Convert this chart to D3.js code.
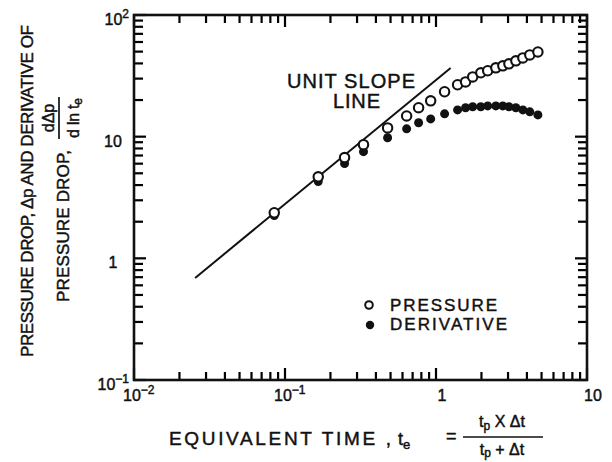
<!DOCTYPE html>
<html>
<head>
<meta charset="utf-8">
<script src="https://cdn.jsdelivr.net/npm/d3@7/dist/d3.min.js"></script>
<style>
  body { margin: 0; background: #fff; }
  svg { display: block; }
  text { font-family: "Liberation Sans", Arial, sans-serif; fill: #111; stroke: #111; stroke-width: 0.45px; }
</style>
</head>
<body>
<div id="chart"></div>
<script>
// equivalent time t_e for every measured point
const equivalentTime = [0.0849, 0.166, 0.248, 0.331, 0.478, 0.639, 0.767, 0.922, 1.14, 1.39,
  1.57, 1.75, 1.98, 2.20, 2.49, 2.77, 3.04, 3.38, 3.76, 4.18, 4.73];
// pressure drop (open circles)
const pressureDrop = [2.37, 4.68, 6.73, 8.60, 11.8, 14.8, 17.3, 19.7, 23.4, 26.7,
  28.2, 31.0, 33.5, 34.8, 36.8, 38.2, 39.7, 42.0, 44.4, 47.0, 49.7];
// derivative d(dp)/d ln t_e (filled dots)
const pressureDerivative = [2.25, 4.28, 6.01, 7.53, 9.8, 11.6, 13.0, 14.0, 15.4, 16.6,
  17.3, 17.6, 17.6, 17.9, 17.9, 17.9, 17.6, 17.3, 16.6, 16.0, 15.1];

// unit slope reference line, end points
const unitSlopeTime = [0.0254, 1.25];
const unitSlopeValue = [0.69, 36.7];

// tick labels: [base, exponent]
const xTickValues = [0.01, 0.1, 1, 10];
const xTickLabels = [["10", "\u22122"], ["10", "\u22121"], ["1", ""], ["10", ""]];
const yTickValues = [0.1, 1, 10, 100];
const yTickLabels = [["10", "\u22121"], ["1", ""], ["10", ""], ["10", "2"]];

const legendLabels = ["PRESSURE", "DERIVATIVE"];

const WIDTH = 612, HEIGHT = 462;
const PLOT = { left: 134, right: 587, top: 15, bottom: 380 };

const svg = d3.select("#chart").append("svg")
  .attr("width", WIDTH)
  .attr("height", HEIGHT);

const g = svg.append("g");

const xScale = d3.scaleLog().domain([0.01, 10]).range([PLOT.left, PLOT.right]);
const yScale = d3.scaleLog().domain([0.1, 100]).range([PLOT.bottom, PLOT.top]);

const isMajor = v => Math.abs(Math.log10(v) - Math.round(Math.log10(v))) < 1e-6;
const xMinor = xScale.ticks().filter(v => !isMajor(v));
const yMinor = yScale.ticks().filter(v => !isMajor(v));

// inward ticks as small filled bars: [value, length]
const xTickMarks = xMinor.map(v => [v, 8]).concat(xTickValues.map(v => [v, 12]));
const yTickMarks = yMinor.map(v => [v, 9]).concat(yTickValues.map(v => [v, 12]));
const TW = 2.2;

g.append("g").selectAll("rect")
  .data(xTickMarks)
  .join("rect")
  .attr("x", d => xScale(d[0]) - TW / 2)
  .attr("y", d => PLOT.bottom - d[1])
  .attr("width", TW)
  .attr("height", d => d[1])
  .attr("fill", "#000");
g.append("g").selectAll("rect")
  .data(xTickMarks)
  .join("rect")
  .attr("x", d => xScale(d[0]) - TW / 2)
  .attr("y", PLOT.top)
  .attr("width", TW)
  .attr("height", d => d[1])
  .attr("fill", "#000");
g.append("g").selectAll("rect")
  .data(yTickMarks)
  .join("rect")
  .attr("x", PLOT.left)
  .attr("y", d => yScale(d[0]) - TW / 2)
  .attr("width", d => d[1])
  .attr("height", TW)
  .attr("fill", "#000");
g.append("g").selectAll("rect")
  .data(yTickMarks)
  .join("rect")
  .attr("x", d => PLOT.right - d[1])
  .attr("y", d => yScale(d[0]) - TW / 2)
  .attr("width", d => d[1])
  .attr("height", TW)
  .attr("fill", "#000");

g.append("rect")
  .attr("x", PLOT.left).attr("y", PLOT.top)
  .attr("width", PLOT.right - PLOT.left).attr("height", PLOT.bottom - PLOT.top)
  .attr("fill", "none")
  .attr("stroke", "#111")
  .attr("stroke-width", 2.6);

// tick labels
function tickLabel(sel, label) {
  sel.append("tspan").text(label[0]);
  if (label[1]) {
    sel.append("tspan").attr("dy", -7).attr("font-size", 12).text(label[1]);
  }
}
xTickValues.forEach((v, i) => {
  const lab = xTickLabels[i];
  const t = g.append("text")
    .attr("y", PLOT.bottom + 21)
    .attr("font-size", 16);
  if (lab[1]) t.attr("x", xScale(v) - 11).attr("text-anchor", "start");
  else t.attr("x", xScale(v) + 6).attr("text-anchor", "middle");
  tickLabel(t, lab);
});
yTickValues.forEach((v, i) => {
  const lab = yTickLabels[i];
  const t = g.append("text")
    .attr("y", yScale(v) + 10)
    .attr("font-size", 16);
  if (lab[1]) t.attr("x", PLOT.left - 5).attr("text-anchor", "end");
  else t.attr("x", PLOT.left - 21).attr("text-anchor", "middle");
  tickLabel(t, lab);
});

// unit slope line
const slopeLine = d3.line().x(d => xScale(d[0])).y(d => yScale(d[1]));
g.append("path")
  .attr("d", slopeLine(d3.zip(unitSlopeTime, unitSlopeValue)))
  .attr("fill", "none")
  .attr("stroke", "#111")
  .attr("stroke-width", 2);

g.append("text").attr("x", 287).attr("y", 88).attr("font-size", 20)
  .attr("textLength", 128).attr("lengthAdjust", "spacing").text("UNIT SLOPE");
g.append("text").attr("x", 333).attr("y", 108).attr("font-size", 20)
  .attr("textLength", 47).attr("lengthAdjust", "spacing").text("LINE");

// derivative first, pressure circles drawn over it
g.append("g").selectAll("circle")
  .data(d3.zip(equivalentTime, pressureDerivative))
  .join("circle")
  .attr("cx", d => xScale(d[0]))
  .attr("cy", d => yScale(d[1]))
  .attr("r", 4.5)
  .attr("fill", "#111");

g.append("g").selectAll("circle")
  .data(d3.zip(equivalentTime, pressureDrop))
  .join("circle")
  .attr("cx", d => xScale(d[0]))
  .attr("cy", d => yScale(d[1]))
  .attr("r", 4.7)
  .attr("fill", "#fff")
  .attr("stroke", "#111")
  .attr("stroke-width", 2.1);

// legend
g.append("circle").attr("cx", 369).attr("cy", 305).attr("r", 3.8)
  .attr("fill", "#fff").attr("stroke", "#111").attr("stroke-width", 2);
g.append("circle").attr("cx", 370).attr("cy", 325).attr("r", 4.2).attr("fill", "#111");
g.append("text").attr("x", 390).attr("y", 311).attr("font-size", 17)
  .attr("textLength", 107).attr("lengthAdjust", "spacing").text(legendLabels[0]);
g.append("text").attr("x", 390).attr("y", 330).attr("font-size", 17)
  .attr("textLength", 117).attr("lengthAdjust", "spacing").text(legendLabels[1]);

// x axis title
g.append("text").attr("x", 169).attr("y", 445).attr("font-size", 19)
  .attr("textLength", 222).attr("lengthAdjust", "spacing").text("EQUIVALENT TIME ,");
const te = g.append("text").attr("x", 398).attr("y", 445).attr("font-size", 18);
te.append("tspan").text("t");
te.append("tspan").attr("dy", 4).attr("font-size", 13).text("e");
g.append("text").attr("x", 446).attr("y", 442).attr("font-size", 18).text("=");

const num = g.append("text").attr("x", 502).attr("y", 427).attr("font-size", 16)
  .attr("text-anchor", "middle");
num.append("tspan").text("t");
num.append("tspan").attr("dy", 3).attr("font-size", 12).text("p");
num.append("tspan").attr("dy", -3).text(" X \u0394t");
g.append("line").attr("x1", 463).attr("x2", 543).attr("y1", 437).attr("y2", 437)
  .attr("stroke", "#111").attr("stroke-width", 1.7);
const den = g.append("text").attr("x", 502).attr("y", 455).attr("font-size", 16)
  .attr("text-anchor", "middle");
den.append("tspan").text("t");
den.append("tspan").attr("dy", 2).attr("font-size", 12).text("p");
den.append("tspan").attr("dy", -2).text(" + \u0394t");

// y axis title, two rotated lines
g.append("text")
  .attr("transform", "translate(33,191) rotate(-90)")
  .attr("text-anchor", "middle")
  .attr("font-size", 17)
  .attr("textLength", 332).attr("lengthAdjust", "spacing")
  .text("PRESSURE DROP, \u0394p AND DERIVATIVE OF");
g.append("text")
  .attr("transform", "translate(69,302) rotate(-90)")
  .attr("font-size", 17)
  .attr("textLength", 152).attr("lengthAdjust", "spacing")
  .text("PRESSURE DROP,");
g.append("text")
  .attr("transform", "translate(54,118) rotate(-90)")
  .attr("text-anchor", "middle")
  .attr("font-size", 16)
  .text("d\u0394p");
g.append("line").attr("x1", 59).attr("x2", 59).attr("y1", 97).attr("y2", 139)
  .attr("stroke", "#111").attr("stroke-width", 1.7);
const dl = g.append("text")
  .attr("transform", "translate(79,118) rotate(-90)")
  .attr("text-anchor", "middle")
  .attr("font-size", 16)
  .attr("textLength", 40).attr("lengthAdjust", "spacing");
dl.append("tspan").text("d ln t");
dl.append("tspan").attr("dy", 3).attr("font-size", 12).text("e");
</script>
</body>
</html>
